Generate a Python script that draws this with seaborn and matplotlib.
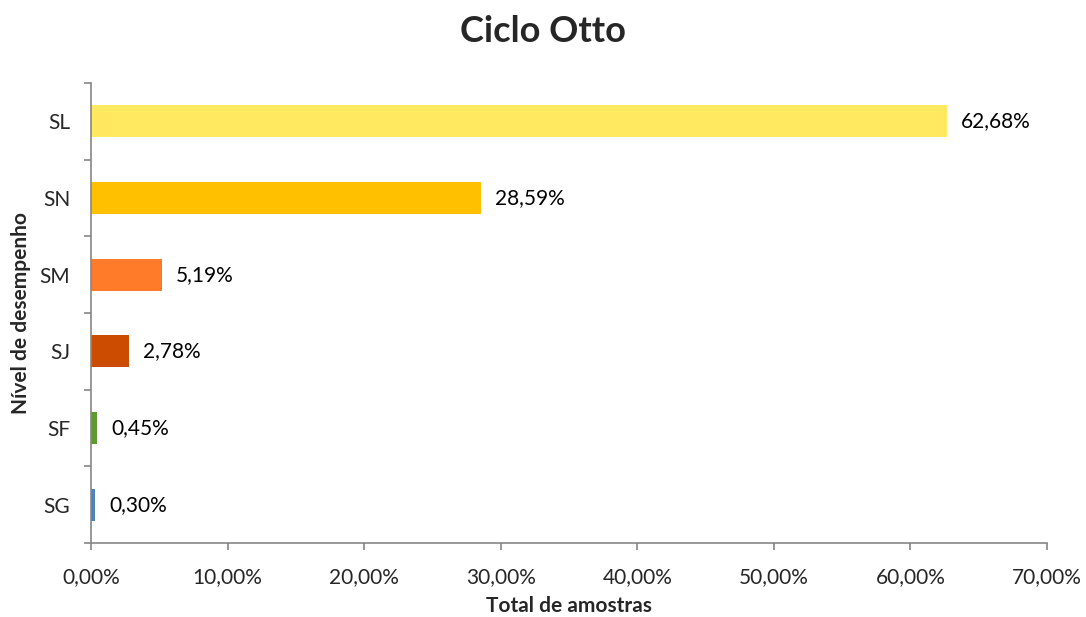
import matplotlib
matplotlib.use("Agg")
import matplotlib.pyplot as plt
import seaborn as sns
import pandas as pd
import numpy as np

categories = ["SL", "SN", "SM", "SJ", "SF", "SG"]
values = [62.68, 28.59, 5.19, 2.78, 0.45, 0.30]
colors = ["#FFE960", "#FFC000", "#FF7B2A", "#CC4C02", "#5F9A2E", "#4F81BD"]
xticks = [0, 10, 20, 30, 40, 50, 60, 70]

sns.set_style("white")
plt.rcParams["font.family"] = ["Lato", "DejaVu Sans"]

df = pd.DataFrame({"cat": categories, "val": values})
fig = plt.figure(figsize=(10.86, 6.17), dpi=100)
ax = fig.add_axes([0.0838, 0.1199, 0.8803, 0.7456])

sns.barplot(data=df, y="cat", x="val", hue="cat", order=categories,
            palette=dict(zip(categories, colors)), width=0.42, legend=False,
            ax=ax, saturation=1, linewidth=0)

for cont, v in zip(ax.containers, values):
    ax.bar_label(cont, labels=[f"{v:.2f}%".replace(".", ",")], padding=10,
                 fontsize=15, color="#000000")

ax.set_xlim(0, 70)
ax.set_xticks(xticks)
ax.set_xticklabels([f"{t:.2f}%".replace(".", ",") for t in xticks], fontsize=15)
ax.set_ylim(len(categories) - 0.5, -0.5)
ax.set_yticks(range(len(categories)))
ax.set_yticklabels(categories, fontsize=15)
ax.set_yticks(np.arange(-0.5, len(categories), 1), minor=True)
ax.tick_params(axis="y", which="major", left=True, length=0, pad=15)
ax.tick_params(axis="y", which="minor", left=True, length=5, width=1.2, color="#868686", direction="out")
ax.tick_params(axis="x", which="major", bottom=True, length=5, width=1.2, color="#868686", direction="out", pad=12)

for s in ["top", "right"]:
    ax.spines[s].set_visible(False)
for s in ["left", "bottom"]:
    ax.spines[s].set_color("#868686")
    ax.spines[s].set_linewidth(1.2)

ax.set_xlabel("Total de amostras", fontsize=15, fontweight="bold", labelpad=7)
ax.set_ylabel("Nível de desempenho", fontsize=15, fontweight="bold", labelpad=6)
fig.suptitle("Ciclo Otto", fontsize=26, fontweight="bold", y=0.975)

fig.savefig("out.png", dpi=100)
